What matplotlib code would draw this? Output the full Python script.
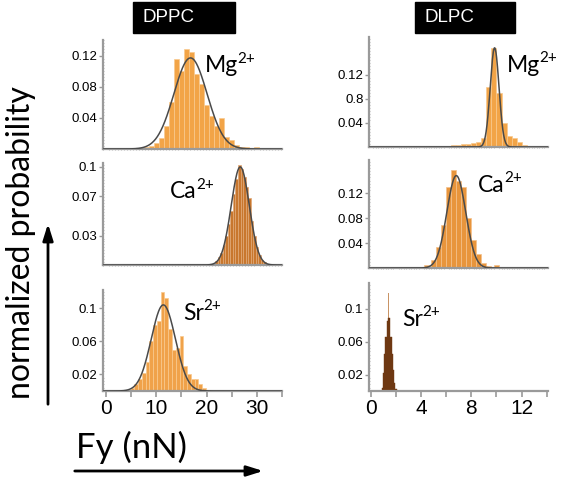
"""Force histograms for DPPC / DLPC bilayers with Mg, Ca and Sr ions."""

import matplotlib

matplotlib.use("Agg")
import matplotlib.pyplot as plt
import numpy as np
from matplotlib.patches import FancyArrowPatch, Rectangle
from matplotlib.ticker import FixedLocator, FixedFormatter, MultipleLocator

# ---- data ---------------------------------------------------------------
# DPPC, Mg2+ (bin width 1 nN)
dppc_mg_x = [8, 9, 10, 11, 12, 13, 14, 15, 16, 17, 18, 19, 20, 21, 22, 23,
             24, 25, 26, 27, 28, 30]
dppc_mg_p = [0.002, 0.004, 0.008, 0.014, 0.03, 0.06, 0.115, 0.10, 0.128,
             0.124, 0.096, 0.083, 0.057, 0.042, 0.03, 0.04, 0.016, 0.012,
             0.005, 0.002, 0.003, 0.003]
dppc_mg_fit = (16.8, 3.3, 0.117)  # mean, sigma, peak

# DPPC, Ca2+ (bin width 0.5 nN)
dppc_ca_x = [22.0, 22.5, 23.0, 23.5, 24.0, 24.5, 25.0, 25.5, 26.0, 26.5,
             27.0, 27.5, 28.0, 28.5, 29.0, 29.5, 30.0, 30.5, 31.0, 31.5]
dppc_ca_p = [0.004, 0.008, 0.012, 0.02, 0.03, 0.042, 0.055, 0.072, 0.088,
             0.102, 0.098, 0.09, 0.08, 0.068, 0.045, 0.03, 0.018, 0.01,
             0.005, 0.003]
dppc_ca_fit = (26.7, 1.8, 0.1)

# DPPC, Sr2+ (bin width 0.75 nN)
dppc_sr_x = [5.25, 6.0, 6.75, 7.5, 8.25, 9.0, 9.75, 10.5, 11.25, 12.0,
             12.75, 13.5, 14.25, 15.0, 15.75, 16.5, 17.25, 18.0, 18.75, 19.5]
dppc_sr_p = [0.004, 0.008, 0.015, 0.022, 0.035, 0.06, 0.08, 0.085, 0.119,
             0.112, 0.075, 0.05, 0.052, 0.066, 0.03, 0.02, 0.015, 0.014,
             0.008, 0.004]
dppc_sr_fit = (11.4, 2.4, 0.104)

# DLPC, Mg2+ (bin width 0.4 nN)
dlpc_mg_x = [6.6, 7.0, 7.4, 7.8, 8.2, 8.6, 9.0, 9.4, 9.8, 10.2, 10.6, 11.0,
             11.4, 11.8, 12.2, 12.6]
dlpc_mg_p = [0.003, 0.004, 0.005, 0.005, 0.006, 0.008, 0.015, 0.10, 0.165,
             0.09, 0.04, 0.018, 0.015, 0.008, 0.004, 0.002]
dlpc_mg_fit = (9.85, 0.35, 0.165)

# DLPC, Ca2+ (bin width 0.4 nN)
dlpc_ca_x = [4.4, 4.8, 5.0, 5.4, 5.8, 6.2, 6.6, 7.0, 7.4, 7.8, 8.2, 8.6,
             9.0, 9.4, 10.0]
dlpc_ca_p = [0.005, 0.003, 0.013, 0.034, 0.069, 0.13, 0.157, 0.14, 0.13,
             0.08, 0.045, 0.023, 0.008, 0.004, 0.005]
dlpc_ca_fit = (6.8, 0.75, 0.148)

# DLPC, Sr2+ (bin width 0.1 nN); the single tall bin shows as a light spike
dlpc_sr_x = [0.9, 1.0, 1.1, 1.2, 1.3, 1.4, 1.5, 1.6, 1.7, 1.8, 1.9, 2.0]
dlpc_sr_p = [0.004, 0.022, 0.045, 0.065, 0.085, 0.088, 0.088, 0.065, 0.045,
             0.025, 0.01, 0.003]
dlpc_sr_spike = (1.4, 0.119)

W, H = 562, 483
plt.rcParams["font.family"] = ["Liberation Sans", "DejaVu Sans"]
LABEL_FONT = ["Lato", "DejaVu Sans"]
SPINE = "#9a9a9a"
FIT = "#4a4a4a"


def box(left, top, right, bottom):
    """Pixel box (from top-left) to figure fraction rect."""
    return [left / W, 1 - bottom / H, (right - left) / W, (bottom - top) / H]


def style_axis(ax, xlim, ylim, yticks, ylabels, xmajor, xminor, yminor,
               show_x):
    ax.set_xlim(*xlim)
    ax.set_ylim(*ylim)
    for side in ("top", "right"):
        ax.spines[side].set_visible(False)
    for side in ("left", "bottom"):
        ax.spines[side].set_color(SPINE)
        ax.spines[side].set_linewidth(1.6)
    ax.yaxis.set_major_locator(FixedLocator(yticks))
    ax.yaxis.set_major_formatter(FixedFormatter(ylabels))
    ax.yaxis.set_minor_locator(MultipleLocator(yminor))
    ax.xaxis.set_major_locator(MultipleLocator(xmajor))
    ax.xaxis.set_minor_locator(MultipleLocator(xminor))
    ax.tick_params(axis="y", which="major", length=3, width=1, color=SPINE,
                   labelsize=9.5, pad=1)
    ax.tick_params(which="minor", length=1.5, width=0.6, color="#b0b0b0",
                   direction="inout")
    if show_x:
        ax.tick_params(axis="x", which="major", length=4, width=1.2,
                       color=SPINE, labelsize=15, pad=2)
    else:
        ax.tick_params(axis="x", which="major", length=0, labelbottom=False)
    ax.patch.set_alpha(0)


def draw_hist(ax, x, p, width, color, edge):
    ax.bar(x, p, width=width, color=color, edgecolor=edge, linewidth=0.5,
           zorder=2)


def draw_fit(ax, fit, xlim):
    mean, sigma, peak = fit
    xs = np.linspace(xlim[0], xlim[1], 600)
    ax.plot(xs, peak * np.exp(-0.5 * ((xs - mean) / sigma) ** 2), color=FIT,
            lw=1.1, zorder=3)


fig = plt.figure(figsize=(W / 100, H / 100), dpi=100)

left_xlim = (-0.6, 35)
right_xlim = (-0.15, 14.1)

# left column: DPPC
ax = fig.add_axes(box(103, 40, 282, 149))
draw_hist(ax, dppc_mg_x, dppc_mg_p, 1.0, "#f2a447", "#f9c98e")
draw_fit(ax, dppc_mg_fit, left_xlim)
style_axis(ax, left_xlim, (0, 0.14), [0.04, 0.08, 0.12],
           ["0.04", "0.08", "0.12"], 5, 0.6, 0.004, False)

ax = fig.add_axes(box(103, 163, 282, 265))
draw_hist(ax, dppc_ca_x, dppc_ca_p, 0.5, "#c8772e", "#e0a877")
draw_fit(ax, dppc_ca_fit, left_xlim)
style_axis(ax, left_xlim, (0, 0.104), [0.03, 0.07, 0.1],
           ["0.03", "0.07", "0.1"], 5, 0.6, 0.003, False)

ax = fig.add_axes(box(103, 290, 282, 391))
draw_hist(ax, dppc_sr_x, dppc_sr_p, 0.75, "#f0a24a", "#f9c98e")
draw_fit(ax, dppc_sr_fit, left_xlim)
style_axis(ax, left_xlim, (0, 0.122), [0.02, 0.06, 0.1],
           ["0.02", "0.06", "0.1"], 5, 0.6, 0.004, True)
ax.set_xticks([0, 10, 20, 30])
ax.xaxis.set_minor_locator(FixedLocator([5, 15, 25, 35]))
ax.tick_params(axis="x", which="minor", length=4, width=1.2, color=SPINE,
               direction="out")

# right column: DLPC
ax = fig.add_axes(box(369, 37, 548, 147))
draw_hist(ax, dlpc_mg_x, dlpc_mg_p, 0.4, "#f2a447", "#f9c98e")
draw_fit(ax, dlpc_mg_fit, right_xlim)
style_axis(ax, right_xlim, (0, 0.183), [0.04, 0.08, 0.12],
           ["0.04", "0.8", "0.12"], 2, 0.2, 0.005, False)

ax = fig.add_axes(box(369, 160, 548, 268))
draw_hist(ax, dlpc_ca_x, dlpc_ca_p, 0.4, "#e8953c", "#f3c18c")
draw_fit(ax, dlpc_ca_fit, right_xlim)
style_axis(ax, right_xlim, (0, 0.173), [0.04, 0.08, 0.12],
           ["0.04", "0.08", "0.12"], 2, 0.2, 0.005, False)

ax = fig.add_axes(box(369, 283, 548, 391))
ax.bar([dlpc_sr_spike[0]], [dlpc_sr_spike[1]], width=0.09, color="#c99465",
       edgecolor="none", zorder=1)
ax.bar(dlpc_sr_x, dlpc_sr_p, width=0.1, color="#6e3812",
       edgecolor="#6e3812", linewidth=0.3, zorder=2)
style_axis(ax, right_xlim, (0, 0.131), [0.02, 0.06, 0.1],
           ["0.02", "0.06", "0.1"], 2, 0.2, 0.004, True)
ax.set_xticks([0, 4, 8, 12])
ax.xaxis.set_minor_locator(FixedLocator([2, 6, 10, 14]))
ax.tick_params(axis="x", which="minor", length=4, width=1.2, color=SPINE,
               direction="out")

# header boxes
for (l, r), name in (((133, 235), "DPPC"), ((415, 515), "DLPC")):
    fig.add_artist(Rectangle((l / W, 1 - 33 / H), (r - l) / W, 31 / H,
                             transform=fig.transFigure, color="black"))
    fig.text((l + 9) / W, 1 - 18 / H, name, color="white", fontsize=13.5,
             va="center", ha="left")

# ion labels, superscript placed right after the element symbol
ion_labels = [
    (205, 66, "Mg"), (507, 65, "Mg"),
    (170, 192, "Ca"), (478, 185, "Ca"),
    (183, 313, "Sr"), (402, 319, "Sr"),
]
for px, py, ion in ion_labels:
    base = fig.text(px / W, 1 - py / H, ion, family=LABEL_FONT, fontsize=16.5,
                    va="center", ha="left")
    fig.add_artist(plt.Annotation("2+", xy=(1.0, 0.5), xycoords=base,
                                  xytext=(-0.5, 0),
                                  textcoords="offset points",
                                  family=LABEL_FONT, fontsize=11,
                                  va="bottom", ha="left"))

# axis captions with arrows
fig.text(21 / W, 1 - 243 / H, "normalized probability", family=LABEL_FONT,
         fontsize=23, rotation=90, va="center", ha="center")
fig.text(76 / W, 1 - 447 / H, "Fy (nN)", family=LABEL_FONT, fontsize=25,
         va="center", ha="left")
arrow_style = "-|>,head_length=0.7,head_width=0.22"
fig.add_artist(FancyArrowPatch((48 / W, 1 - 407 / H), (48 / W, 1 - 221 / H),
                               transform=fig.transFigure,
                               arrowstyle=arrow_style, mutation_scale=14,
                               lw=2, color="black"))
fig.add_artist(FancyArrowPatch((72 / W, 1 - 471 / H), (266 / W, 1 - 471 / H),
                               transform=fig.transFigure,
                               arrowstyle=arrow_style, mutation_scale=14,
                               lw=2, color="black"))

fig.savefig("out.png", dpi=100)
